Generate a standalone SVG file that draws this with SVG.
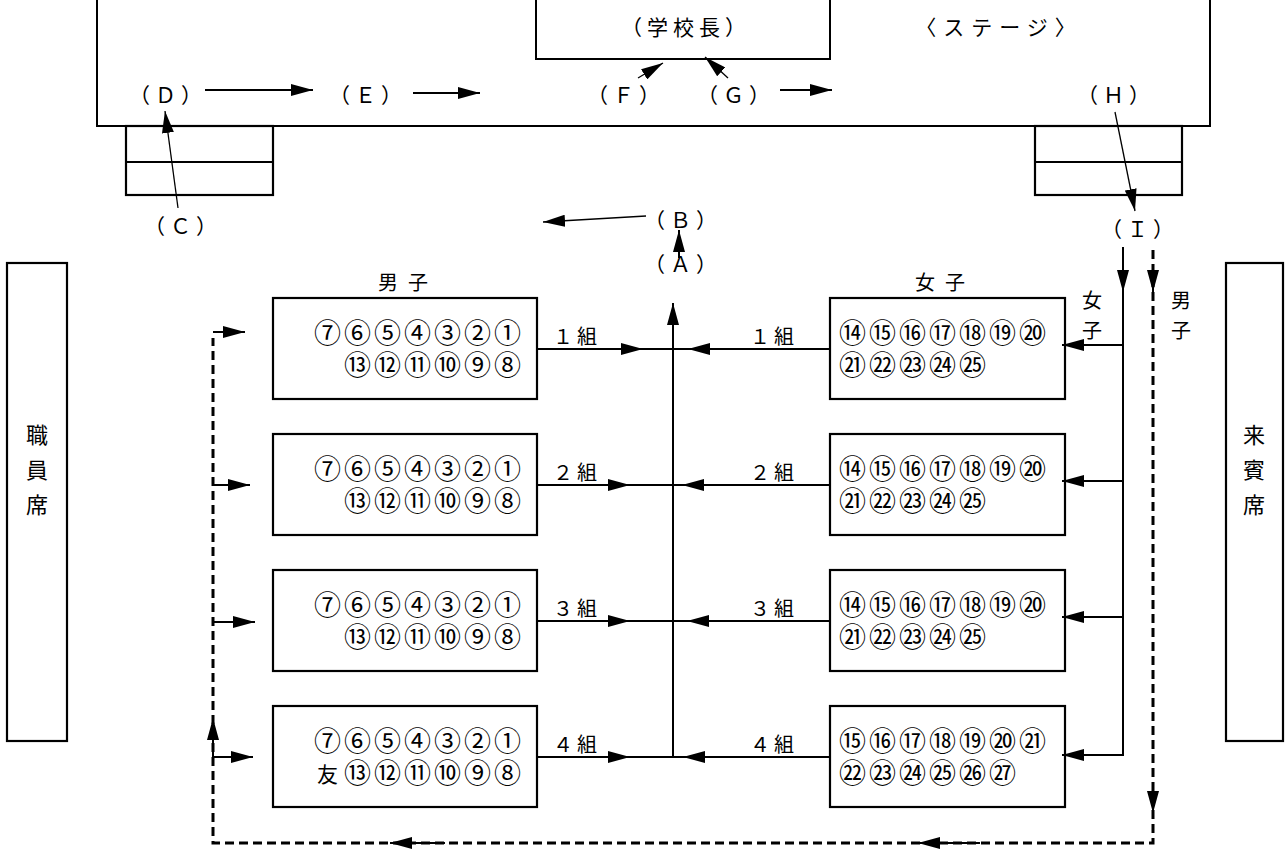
<svg xmlns="http://www.w3.org/2000/svg" width="1285" height="850" viewBox="0 0 1285 850">
<style>
text{font-family:"Noto Sans CJK JP","Noto Sans CJK SC",sans-serif;fill:#000}
.lbl{font-size:21px;letter-spacing:5px;text-anchor:middle}
.jp{font-size:20px;text-anchor:middle}
.num{font-size:27px;letter-spacing:3px}
.tomo{font-size:21px}
.box{fill:#fff;stroke:#000;stroke-width:2.2}
.ln{fill:none;stroke:#000;stroke-width:2}
.thin{fill:none;stroke:#000;stroke-width:1.3}
.dash{fill:none;stroke:#000;stroke-width:3;stroke-dasharray:9 5}
.arr{marker-end:url(#ah)}
</style>
<defs>
<marker id="ah" markerUnits="userSpaceOnUse" markerWidth="24" markerHeight="12" refX="22" refY="6" orient="auto">
<path d="M0,0 L22,6 L0,12 Z" fill="#000"/>
</marker>
</defs>
<rect width="1285" height="850" fill="#fff"/>

<g id="stage">
<path class="ln" d="M97,0 V126 H1210 V0"/>
<text class="jp" x="999" y="35" style="font-size:21px;letter-spacing:7px">〈ステージ〉</text>
</g>
<g id="principal">
<path class="ln" d="M536,0 V59 H830 V0"/>
<text class="jp" x="686" y="35" style="font-size:21px;letter-spacing:5px">（学校長）</text>
</g>
<g id="steps-left">
<rect class="box" x="126" y="126" width="147" height="69"/>
<line class="ln" x1="126" y1="162" x2="273" y2="162"/>
</g>
<g id="steps-right">
<rect class="box" x="1035" y="126" width="147" height="69"/>
<line class="ln" x1="1035" y1="162" x2="1182" y2="162"/>
</g>

<g id="staff">
<rect class="box" x="7" y="263" width="60" height="478"/>
<text class="jp" x="37" y="443" style="font-size:22px">職</text>
<text class="jp" x="37" y="478" style="font-size:22px">員</text>
<text class="jp" x="37" y="513" style="font-size:22px">席</text>
</g>
<g id="guest">
<rect class="box" x="1226" y="263" width="57" height="478"/>
<text class="jp" x="1254" y="443" style="font-size:22px">来</text>
<text class="jp" x="1254" y="478" style="font-size:22px">賓</text>
<text class="jp" x="1254" y="513" style="font-size:22px">席</text>
</g>

<g id="labels">
<text class="lbl" x="168" y="103">（Ｄ）</text>
<text class="lbl" x="368" y="103">（Ｅ）</text>
<text class="lbl" x="626" y="103">（Ｆ）</text>
<text class="lbl" x="736" y="103">（Ｇ）</text>
<text class="lbl" x="1116" y="103">（Ｈ）</text>
<text class="lbl" x="183" y="234">（Ｃ）</text>
<text class="lbl" x="683" y="228">（Ｂ）</text>
<text class="lbl" x="683" y="272">（Ａ）</text>
<text class="lbl" x="1140" y="237">（Ｉ）</text>
<text class="jp" x="408" y="290" style="letter-spacing:10px">男子</text>
<text class="jp" x="945" y="290" style="letter-spacing:10px">女子</text>
<text class="jp" x="1092" y="308">女</text>
<text class="jp" x="1092" y="338">子</text>
<text class="jp" x="1181" y="308">男</text>
<text class="jp" x="1181" y="338">子</text>
<text class="jp" x="577" y="344" style="letter-spacing:4px">１組</text>
<text class="jp" x="577" y="480" style="letter-spacing:4px">２組</text>
<text class="jp" x="577" y="616" style="letter-spacing:4px">３組</text>
<text class="jp" x="577" y="752" style="letter-spacing:4px">４組</text>
<text class="jp" x="774" y="344" style="letter-spacing:4px">１組</text>
<text class="jp" x="774" y="480" style="letter-spacing:4px">２組</text>
<text class="jp" x="774" y="616" style="letter-spacing:4px">３組</text>
<text class="jp" x="774" y="752" style="letter-spacing:4px">４組</text>
</g>

<g id="boys1">
<rect class="box" x="273" y="298" width="264" height="101"/>
<text class="num" x="314" y="343">⑦⑥⑤④③②①</text>
<text class="num" x="344" y="375">⑬⑫⑪⑩⑨⑧</text>
</g>
<g id="boys2">
<rect class="box" x="273" y="434" width="264" height="101"/>
<text class="num" x="314" y="479">⑦⑥⑤④③②①</text>
<text class="num" x="344" y="511">⑬⑫⑪⑩⑨⑧</text>
</g>
<g id="boys3">
<rect class="box" x="273" y="570" width="264" height="101"/>
<text class="num" x="314" y="615">⑦⑥⑤④③②①</text>
<text class="num" x="344" y="647">⑬⑫⑪⑩⑨⑧</text>
</g>
<g id="boys4">
<rect class="box" x="273" y="706" width="264" height="101"/>
<text class="num" x="314" y="751">⑦⑥⑤④③②①</text>
<text class="tomo" x="317" y="782">友</text>
<text class="num" x="344" y="783">⑬⑫⑪⑩⑨⑧</text>
</g>
<g id="girls1">
<rect class="box" x="830" y="298" width="235" height="101"/>
<text class="num" x="839" y="343">⑭⑮⑯⑰⑱⑲⑳</text>
<text class="num" x="839" y="375">㉑㉒㉓㉔㉕</text>
</g>
<g id="girls2">
<rect class="box" x="830" y="434" width="235" height="101"/>
<text class="num" x="839" y="479">⑭⑮⑯⑰⑱⑲⑳</text>
<text class="num" x="839" y="511">㉑㉒㉓㉔㉕</text>
</g>
<g id="girls3">
<rect class="box" x="830" y="570" width="235" height="101"/>
<text class="num" x="839" y="615">⑭⑮⑯⑰⑱⑲⑳</text>
<text class="num" x="839" y="647">㉑㉒㉓㉔㉕</text>
</g>
<g id="girls4">
<rect class="box" x="830" y="706" width="235" height="101"/>
<text class="num" x="839" y="751">⑮⑯⑰⑱⑲⑳㉑</text>
<text class="num" x="839" y="783">㉒㉓㉔㉕㉖㉗</text>
</g>

<g id="connectors">
<path class="ln arr" d="M205,90 H313"/>
<path class="ln arr" d="M413,93 H480"/>
<path class="ln arr" d="M780,90 H832"/>
<path class="thin arr" d="M638,78 L663,63"/>
<path class="thin arr" d="M728,78 L705,57"/>
<path class="thin arr" d="M178,208 L165,111"/>
<path class="thin arr" d="M1115,112 L1135,211"/>
<path class="thin arr" d="M646,216 L543,222"/>
<path class="ln arr" d="M679,258 V230"/>
<path class="ln arr" d="M673,757 V303"/>
<path class="ln arr" d="M537,349 H643"/><line class="ln" x1="643" y1="349" x2="673" y2="349"/>
<path class="ln arr" d="M537,485 H630"/><line class="ln" x1="630" y1="485" x2="673" y2="485"/>
<path class="ln arr" d="M537,621 H630"/><line class="ln" x1="630" y1="621" x2="673" y2="621"/>
<path class="ln arr" d="M537,757 H630"/><line class="ln" x1="630" y1="757" x2="673" y2="757"/>
<path class="ln arr" d="M830,349 H688"/><line class="ln" x1="688" y1="349" x2="673" y2="349"/>
<path class="ln arr" d="M830,485 H682"/><line class="ln" x1="682" y1="485" x2="673" y2="485"/>
<path class="ln arr" d="M830,621 H687"/><line class="ln" x1="687" y1="621" x2="673" y2="621"/>
<path class="ln arr" d="M830,757 H683"/><line class="ln" x1="683" y1="757" x2="673" y2="757"/>
<path class="ln arr" d="M1123,247 V292"/>
<line class="ln" x1="1123" y1="292" x2="1123" y2="755"/>
<path class="ln arr" d="M1123,345 H1062"/>
<path class="ln arr" d="M1123,481 H1062"/>
<path class="ln arr" d="M1123,617 H1062"/>
<path class="ln arr" d="M1124,755 H1062"/>
<path class="dash" d="M1153,250 V843 H213 V338"/>
<path class="ln arr" d="M1153,270 V292"/>
<path class="ln arr" d="M1153,790 V813"/>
<path class="ln arr" d="M980,843 H918"/>
<path class="ln arr" d="M445,843 H390"/>
<path class="ln arr" d="M213,760 V718"/>
<path class="ln arr" d="M213,332 H245"/>
<path class="ln arr" d="M213,485 H250"/>
<path class="ln arr" d="M213,622 H255"/>
<path class="ln arr" d="M213,757 H253"/>
</g>
</svg>
